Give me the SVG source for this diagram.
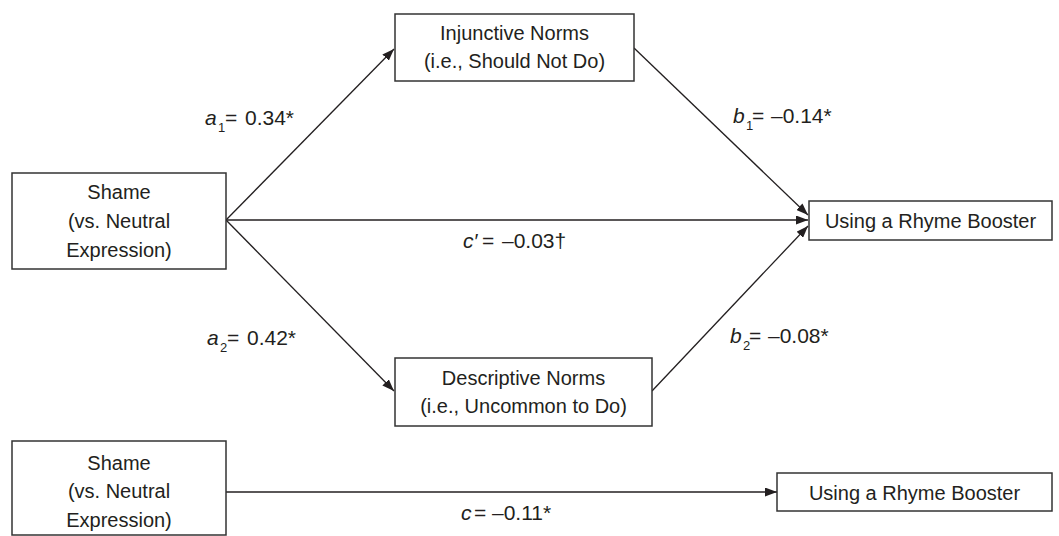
<svg xmlns="http://www.w3.org/2000/svg" width="1059" height="536" viewBox="0 0 1059 536">
  <style>
    .box { fill: #ffffff; stroke: #333333; stroke-width: 1.5; }
    .t { font-family: "Liberation Sans", Arial, sans-serif; font-size: 20px; fill: #231f20; text-anchor: middle; }
    .lbl { font-family: "Liberation Sans", Arial, sans-serif; font-size: 21px; fill: #231f20; }
    .it { font-style: italic; }
    .sub { font-size: 13px; }
    .edge { stroke: #231f20; stroke-width: 1.3; fill: none; marker-end: url(#arr); }
  </style>
  <defs>
    <marker id="arr" markerUnits="userSpaceOnUse" markerWidth="12" markerHeight="9" viewBox="0 0 12 9" refX="12" refY="4.5" orient="auto">
      <path d="M0,0 L12,4.5 L0,9 z" fill="#231f20"/>
    </marker>
  </defs>
  <rect width="1059" height="536" fill="#ffffff"/>

  <g id="connectors">
    <line class="edge" x1="226" y1="220" x2="394" y2="49"/>
    <line class="edge" x1="226" y1="220" x2="394" y2="391"/>
    <line class="edge" x1="226" y1="220" x2="808" y2="220"/>
    <line class="edge" x1="634" y1="48" x2="808" y2="215"/>
    <line class="edge" x1="652" y1="391" x2="808" y2="226"/>
    <line class="edge" x1="226" y1="492" x2="777" y2="492"/>
  </g>

  <g id="shame">
    <rect class="box" x="12" y="173" width="214" height="96"/>
    <text class="t" x="119" y="199">Shame</text>
    <text class="t" x="119" y="228">(vs. Neutral</text>
    <text class="t" x="119" y="257">Expression)</text>
  </g>

  <g id="injunctive">
    <rect class="box" x="395" y="14" width="239" height="67"/>
    <text class="t" x="514.5" y="40">Injunctive Norms</text>
    <text class="t" x="514.5" y="68">(i.e., Should Not Do)</text>
  </g>

  <g id="descriptive">
    <rect class="box" x="395" y="358" width="257" height="68"/>
    <text class="t" x="523.5" y="385">Descriptive Norms</text>
    <text class="t" x="523.5" y="413">(i.e., Uncommon to Do)</text>
  </g>

  <g id="booster">
    <rect class="box" x="809" y="201" width="243" height="39"/>
    <text class="t" x="930.5" y="228">Using a Rhyme Booster</text>
  </g>

  <g id="shame-total">
    <rect class="box" x="12" y="441" width="214" height="94"/>
    <text class="t" x="119" y="470">Shame</text>
    <text class="t" x="119" y="498">(vs. Neutral</text>
    <text class="t" x="119" y="527">Expression)</text>
  </g>

  <g id="booster-total">
    <rect class="box" x="777" y="473" width="275" height="38"/>
    <text class="t" x="914.5" y="500">Using a Rhyme Booster</text>
  </g>

  <g id="labels">
    <text class="lbl" y="125"><tspan class="it" x="205">a</tspan><tspan class="sub" x="218" dy="7">1</tspan><tspan x="225" dy="-7">=</tspan><tspan x="245">0.34*</tspan></text>
    <text class="lbl" y="123"><tspan class="it" x="733">b</tspan><tspan class="sub" x="746" dy="7">1</tspan><tspan x="752" dy="-7">=</tspan><tspan x="771">–0.14*</tspan></text>
    <text class="lbl" y="248"><tspan class="it" x="463">c′</tspan><tspan x="482">=</tspan><tspan x="502">–0.03†</tspan></text>
    <text class="lbl" y="345"><tspan class="it" x="207">a</tspan><tspan class="sub" x="220" dy="7">2</tspan><tspan x="227" dy="-7">=</tspan><tspan x="247">0.42*</tspan></text>
    <text class="lbl" y="343"><tspan class="it" x="730">b</tspan><tspan class="sub" x="743" dy="7">2</tspan><tspan x="749" dy="-7">=</tspan><tspan x="768">–0.08*</tspan></text>
    <text class="lbl" y="520"><tspan class="it" x="461">c</tspan><tspan x="474">=</tspan><tspan x="492">–0.11*</tspan></text>
  </g>
</svg>
